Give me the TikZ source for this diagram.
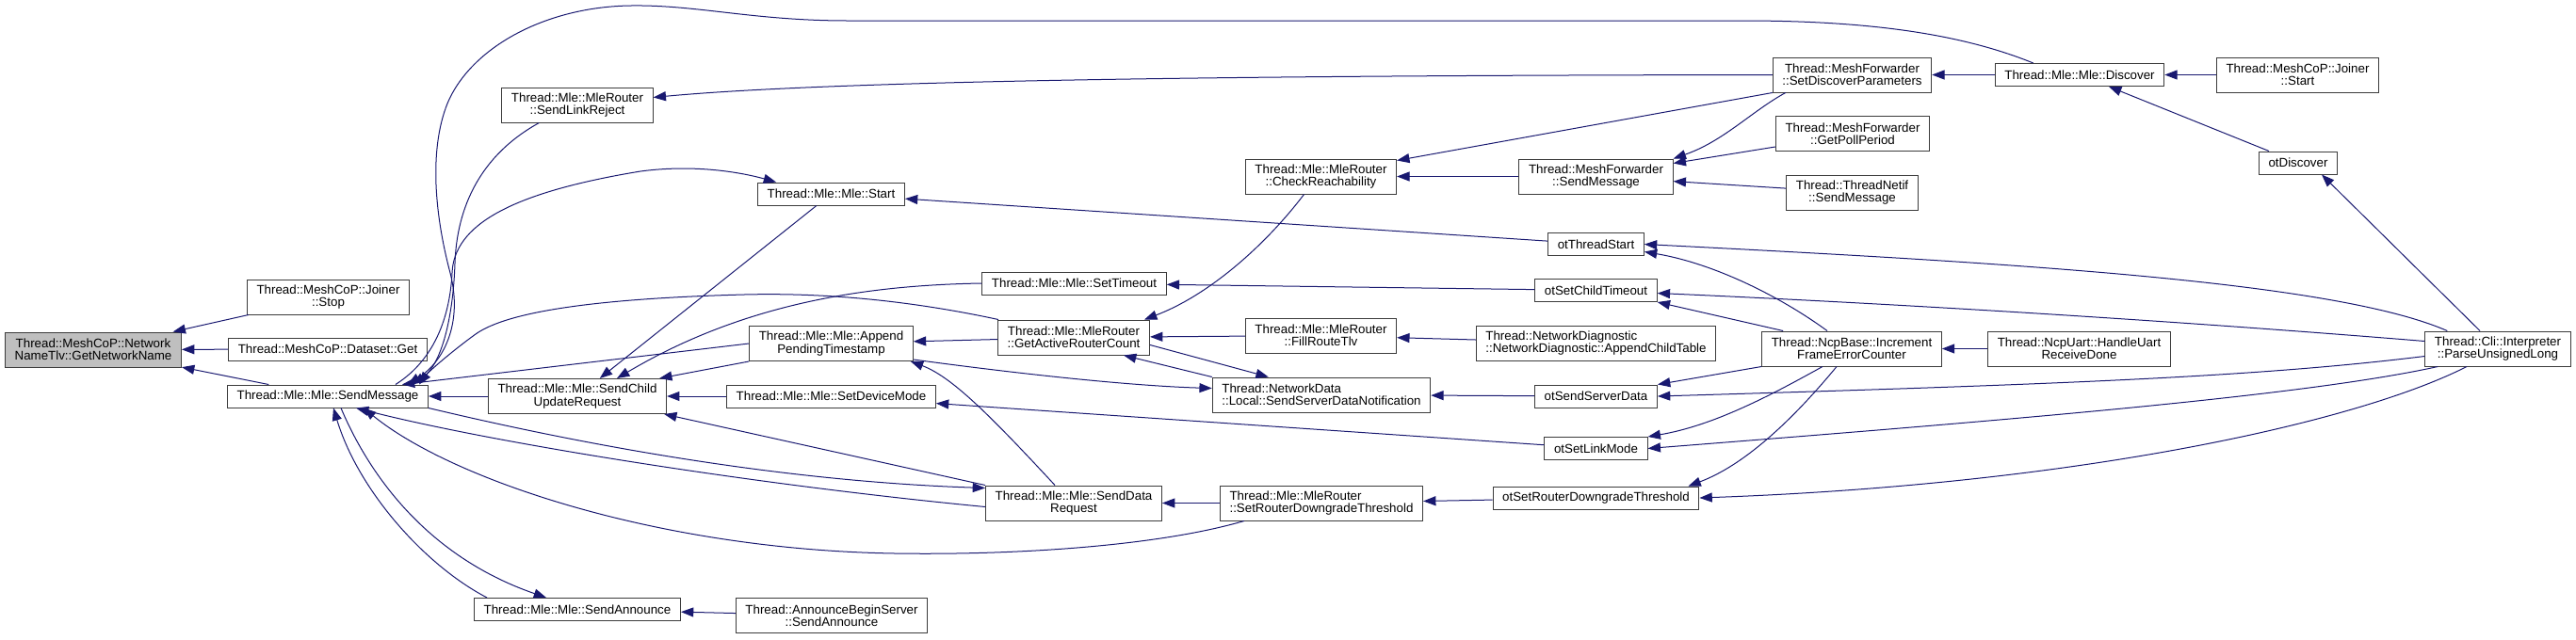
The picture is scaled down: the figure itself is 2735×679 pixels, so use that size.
\documentclass[tikz,border=0pt]{standalone}
\usepackage{fontspec}
\setmainfont{Liberation Sans}
\usetikzlibrary{arrows.meta,calc}
\definecolor{edgeBlue}{HTML}{191970}
\definecolor{nodeBorder}{HTML}{3C3C3C}
\definecolor{rootGrey}{HTML}{BFBFBF}
\tikzset{
  fnnode/.style={
    rectangle, draw=nodeBorder, line width=0.75pt, fill=white,
    inner xsep=7.6pt, inner ysep=1pt, minimum height=18pt,
    font=\fontsize{10}{10}\selectfont, align=center,
  },
  fnnodeTwo/.style={fnnode, minimum height=27.75pt},
  fnnodeLeft/.style={fnnodeTwo, align=left},
  rootnode/.style={fnnodeTwo, fill=rootGrey},
  callArrow/.style={
    -{Triangle[length=10pt,width=7.5pt]}, line width=0.75pt, draw=edgeBlue,
  },
}

\begin{document}
\begin{tikzpicture}[x=0.75pt, y=-0.75pt]
\useasboundingbox (0,0) rectangle (2735,679);

% root and first callers
\node[rootnode] (gnn) at (99,371.5) {Thread::MeshCoP::Network\\NameTlv::GetNetworkName};
\node[fnnodeTwo] (joinerStop) at (348.5,315.5) {Thread::MeshCoP::Joiner\\::Stop};
\node[fnnode] (datasetGet) at (348,371) {Thread::MeshCoP::Dataset::Get};
\node[fnnode] (mleSendMsg) at (348,421) {Thread::Mle::Mle::SendMessage};

% Mle layer
\node[fnnodeTwo] (sendLinkReject) at (613,111.5) {Thread::Mle::MleRouter\\::SendLinkReject};
\node[fnnode] (mleStart) at (882.5,206) {Thread::Mle::Mle::Start};
\node[fnnodeTwo] (appendPending) at (882.5,365) {Thread::Mle::Mle::Append\\PendingTimestamp};
\node[fnnodeTwo] (sendChildUpd) at (613,421) {Thread::Mle::Mle::SendChild\\UpdateRequest};
\node[fnnode] (setDeviceMode) at (882.5,421) {Thread::Mle::Mle::SetDeviceMode};
\node[fnnode] (sendAnnounce) at (613,647.5) {Thread::Mle::Mle::SendAnnounce};
\node[fnnodeTwo] (announceBegin) at (883,654) {Thread::AnnounceBeginServer\\::SendAnnounce};
\node[fnnodeTwo] (checkReach) at (1402.5,187.5) {Thread::Mle::MleRouter\\::CheckReachability};
\node[fnnode] (setTimeout) at (1140.5,301) {Thread::Mle::Mle::SetTimeout};
\node[fnnodeTwo] (activeRouter) at (1140,358.5) {Thread::Mle::MleRouter\\::GetActiveRouterCount};
\node[fnnodeTwo] (fillRoute) at (1402.5,356.5) {Thread::Mle::MleRouter\\::FillRouteTlv};
\node[fnnodeLeft] (serverDataNotif) at (1403,419.5) {Thread::NetworkData\\::Local::SendServerDataNotification};
\node[fnnodeTwo] (sendDataReq) at (1140,534.5) {Thread::Mle::Mle::SendData\\Request};
\node[fnnodeLeft] (routerDowngrade) at (1403,534.5) {Thread::Mle::MleRouter\\::SetRouterDowngradeThreshold};

% mesh forwarder and API
\node[fnnodeTwo] (meshSetDiscover) at (1966.5,79.5) {Thread::MeshForwarder\\::SetDiscoverParameters};
\node[fnnode] (mleDiscover) at (2208,79.5) {Thread::Mle::Mle::Discover};
\node[fnnodeTwo] (joinerStart) at (2439.5,79.5) {Thread::MeshCoP::Joiner\\::Start};
\node[fnnodeTwo] (meshPollPeriod) at (1967,142) {Thread::MeshForwarder\\::GetPollPeriod};
\node[fnnodeTwo] (netifSendMsg) at (1966.5,204.5) {Thread::ThreadNetif\\::SendMessage};
\node[fnnodeTwo] (meshSendMsg) at (1694.5,187.5) {Thread::MeshForwarder\\::SendMessage};
\node[fnnode] (otDiscover) at (2440,173) {otDiscover};
\node[fnnode] (otThreadStart) at (1694.5,259.5) {otThreadStart};
\node[fnnode] (otSetChildTimeout) at (1694.5,308.5) {otSetChildTimeout};
\node[fnnodeLeft] (appendChildTable) at (1694.5,364.5) {Thread::NetworkDiagnostic\\::NetworkDiagnostic::AppendChildTable};
\node[fnnode] (otSendServerData) at (1694.5,421) {otSendServerData};
\node[fnnode] (otSetLinkMode) at (1694.5,476.5) {otSetLinkMode};
\node[fnnode] (otRouterDowngrade) at (1694.5,529) {otSetRouterDowngradeThreshold};
\node[fnnodeTwo] (ncpIncrement) at (1966,370.5) {Thread::NcpBase::Increment\\FrameErrorCounter};
\node[fnnodeTwo] (ncpUartRecv) at (2207.5,370.5) {Thread::NcpUart::HandleUart\\ReceiveDone};
\node[fnnodeTwo] (cliParse) at (2652,370.5) {Thread::Cli::Interpreter\\::ParseUnsignedLong};

% calls into the root
\draw[callArrow] (joinerStop) -- (gnn);
\draw[callArrow] (datasetGet) -- (gnn);
\draw[callArrow] (mleSendMsg) -- (gnn);

% calls into Mle::SendMessage
\draw[callArrow] (sendChildUpd) -- (mleSendMsg);
\draw[callArrow] (appendPending.west) -- ($(mleSendMsg.north east)+(-28,0)$);
\draw[callArrow] ($(sendLinkReject.south west)+(40,0)$)
   .. controls (510,165) and (485,220) .. (483,280)
   .. controls (481,340) and (468,388) .. ($(mleSendMsg.north east)+(-17,0)$);
\draw[callArrow] ($(mleDiscover.north west)+(41,0)$)
   .. controls (2080,35) and (1980,22) .. (1850,22) -- (900,22)
   .. controls (800,22) and (740,5) .. (670,6)
   .. controls (580,7) and (500,50) .. (475,110)
   .. controls (455,160) and (462,230) .. (478,290)
   .. controls (492,345) and (470,385) .. ($(mleSendMsg.north east)+(-22,0)$);
\draw[callArrow] ($(activeRouter.north west)+(1,0)$)
   .. controls (960,318) and (870,311) .. (790,313)
   .. controls (640,317) and (540,330) .. (505,355)
   .. controls (480,373) and (455,395) .. ($(mleSendMsg.north east)+(-10,0)$);
\draw[callArrow] ($(sendDataReq.west)+(0,4)$)
   .. controls (800,515) and (520,470) .. ($(mleSendMsg.south)+(30,0)$);
\draw[callArrow] ($(routerDowngrade.south west)+(26,0)$)
   .. controls (1230,580) and (1080,590) .. (950,588)
   .. controls (700,584) and (480,510) .. ($(mleSendMsg.south)+(38,0)$);
\draw[callArrow] ($(sendAnnounce.north west)+(14,0)$)
   .. controls (450,600) and (380,520) .. ($(mleSendMsg.south)+(6,0)$);

% Mle::SendMessage towards the right
\draw[callArrow] ($(mleSendMsg.north east)+(-35,0)$)
   .. controls (465,380) and (478,330) .. (480,290)
   .. controls (482,240) and (540,205) .. (680,182)
   .. controls (740,174) and (790,184) .. ($(mleStart.north west)+(20,0)$);
\draw[callArrow] (mleSendMsg.south east)
   .. controls (650,480) and (850,512) .. ($(sendDataReq.west)+(0,-16)$);
\draw[callArrow] ($(mleSendMsg.south)+(14,0)$)
   .. controls (390,500) and (450,590) .. ($(sendAnnounce.north west)+(77,0)$);

% SendChildUpdateRequest
\draw[callArrow] (setDeviceMode) -- (sendChildUpd);
\draw[callArrow] (mleStart) -- (sendChildUpd);
\draw[callArrow] (setTimeout.west)
   .. controls (920,303) and (790,322) .. ($(sendChildUpd.north)+(42,0)$);
\draw[callArrow] (appendPending.south west) -- ($(sendChildUpd.north east)+(-8,0)$);
\draw[callArrow] (sendDataReq.north west) -- ($(sendChildUpd.south east)+(-3,0)$);

% AppendPendingTimestamp, GetActiveRouterCount, SendServerDataNotification
\draw[callArrow] (activeRouter) -- (appendPending);
\draw[callArrow] ($(sendDataReq.north)+(-20,0)$)
   .. controls (1050,440) and (1010,400) .. ($(appendPending.south east)+(-3,0)$);
\draw[callArrow] ($(appendPending.south east)+(0,-2)$)
   .. controls (1080,397) and (1200,410) .. ($(serverDataNotif.west)+(0,-7)$);
\draw[callArrow] ($(activeRouter.east)+(0,8)$) -- ($(serverDataNotif.north west)+(60,0)$);
\draw[callArrow] (serverDataNotif.north west) -- ($(activeRouter.south east)+(-28,0)$);
\draw[callArrow] (fillRoute) -- (activeRouter);
\draw[callArrow] (appendChildTable) -- (fillRoute);
\draw[callArrow] ($(checkReach.south)+(-18,0)$)
   .. controls (1340,265) and (1280,315) .. ($(activeRouter.north east)+(-6,0)$);

% mesh forwarder
\draw[callArrow] (meshSetDiscover.south west) -- ($(checkReach.north east)+(0,2)$);
\draw[callArrow] (meshSendMsg) -- (checkReach);
\draw[callArrow] ($(meshSetDiscover.south west)+(14,0)$)
   .. controls (1860,118) and (1830,150) .. (meshSendMsg.north east);
\draw[callArrow] ($(meshPollPeriod.west)+(0,14)$) -- ($(meshSendMsg.east)+(0,-14)$);
\draw[callArrow] (netifSendMsg) -- (meshSendMsg);
\draw[callArrow] (meshSetDiscover.west)
   .. controls (1400,80) and (900,84) .. ($(sendLinkReject.east)+(0,-8)$);
\draw[callArrow] (mleDiscover) -- (meshSetDiscover);
\draw[callArrow] (joinerStart) -- (mleDiscover);
\draw[callArrow] (otDiscover) -- (mleDiscover);
\draw[callArrow] ($(cliParse.north)+(-19,0)$) -- ($(otDiscover.south)+(25,0)$);

% ot* API functions
\draw[callArrow] (otThreadStart) -- (mleStart);
\draw[callArrow] ($(cliParse.north west)+(24,0)$)
   .. controls (2480,300) and (2150,280) .. (otThreadStart.east);
\draw[callArrow] ($(ncpIncrement.north)+(-26,0)$)
   .. controls (1890,315) and (1820,280) .. ($(otThreadStart.east)+(0,8)$);
\draw[callArrow] (otSetChildTimeout) -- (setTimeout);
\draw[callArrow] ($(cliParse.west)+(0,-8)$)
   .. controls (2300,340) and (2000,322) .. ($(otSetChildTimeout.east)+(0,3)$);
\draw[callArrow] ($(ncpIncrement.north west)+(23,0)$) -- (otSetChildTimeout.south east);
\draw[callArrow] (otSendServerData) -- (serverDataNotif);
\draw[callArrow] ($(cliParse.west)+(0,8)$)
   .. controls (2400,400) and (2200,408) .. (otSendServerData.east);
\draw[callArrow] (ncpIncrement.south west) -- (otSendServerData.north east);
\draw[callArrow] (otSetLinkMode) -- (setDeviceMode);
\draw[callArrow] ($(cliParse.south west)+(14,0)$)
   .. controls (2450,420) and (2150,445) .. (otSetLinkMode.east);
\draw[callArrow] ($(ncpIncrement.south)+(-31,0)$)
   .. controls (1880,420) and (1820,452) .. (otSetLinkMode.north east);
\draw[callArrow] (otRouterDowngrade) -- (routerDowngrade);
\draw[callArrow] ($(cliParse.south)+(-33,0)$)
   .. controls (2500,450) and (2200,515) .. (otRouterDowngrade.east);
\draw[callArrow] ($(ncpIncrement.south)+(-16,0)$)
   .. controls (1900,450) and (1850,495) .. ($(otRouterDowngrade.north east)+(-12,0)$);
\draw[callArrow] (routerDowngrade) -- (sendDataReq);
\draw[callArrow] (ncpUartRecv) -- (ncpIncrement);
\draw[callArrow] (announceBegin) -- (sendAnnounce);

\end{tikzpicture}
\end{document}
